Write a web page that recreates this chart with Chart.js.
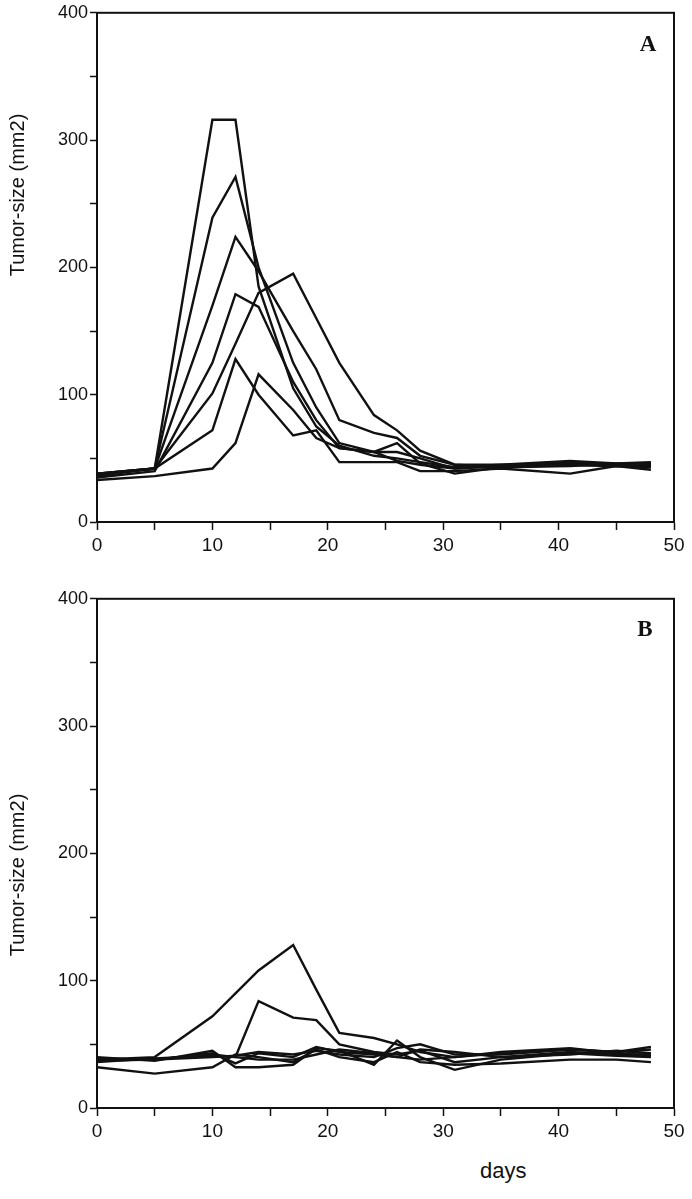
<!DOCTYPE html>
<html>
<head>
<meta charset="utf-8">
<script src="https://cdn.jsdelivr.net/npm/chart.js@4/dist/chart.umd.min.js"></script>
<style>
  body { margin: 0; background: #fff; width: 692px; height: 1199px; position: relative; overflow: hidden; }
  canvas { position: absolute; left: 0; }
  #cA { top: 0; }
  #cB { top: 586px; }
  #days { position: absolute; left: 480px; top: 1158px; font: 22px "Liberation Sans", Arial, sans-serif; color: #111; }
</style>
</head>
<body>
<canvas id="cA" width="692" height="570"></canvas>
<canvas id="cB" width="692" height="570"></canvas>
<div id="days">days</div>
<script>
// measurement days (x axis)
const days = [0, 5, 10, 12, 14, 17, 19, 21, 24, 26, 28, 31, 35, 41, 45, 48];

// panel A: tumour size per animal (mm2)
const a1 = [38, 42, 316, 316, 185, 105, 75, 60, 52, 50, 47, 43, 45, 45, 44, 46];
const a2 = [36, 42, 239, 271, 200, 125, 90, 62, 55, 48, 45, 42, 44, 47, 45, 44];
const a3 = [38, 42, 170, 224, 197, 150, 120, 80, 70, 66, 52, 45, 43, 44, 46, 47];
const a4 = [35, 40, 125, 179, 169, 110, 80, 58, 55, 55, 50, 42, 44, 46, 44, 43];
const a5 = [38, 42, 101, 140, 180, 195, 160, 125, 84, 72, 56, 45, 45, 48, 46, 45];
const a6 = [37, 42, 72, 128, 100, 68, 72, 47, 47, 47, 40, 40, 42, 38, 44, 41];
const a7 = [33, 36, 42, 62, 116, 88, 66, 58, 55, 62, 46, 38, 43, 45, 44, 44];

// panel B
const b1 = [38, 40, 72, 90, 108, 128, 93, 59, 55, 50, 44, 40, 43, 46, 44, 46];
const b2 = [39, 38, 42, 40, 84, 71, 69, 50, 44, 42, 45, 36, 40, 44, 42, 42];
const b3 = [40, 37, 45, 32, 32, 34, 47, 45, 34, 53, 40, 30, 38, 43, 41, 40];
const b4 = [32, 27, 32, 42, 40, 36, 46, 40, 36, 44, 36, 34, 35, 38, 38, 36];
const b5 = [37, 38, 40, 41, 44, 42, 45, 42, 40, 47, 50, 42, 42, 46, 44, 48];
const b6 = [38, 38, 43, 35, 43, 40, 48, 44, 42, 40, 38, 40, 44, 47, 43, 41];
const b7 = [36, 39, 41, 40, 38, 38, 42, 46, 43, 40, 46, 44, 40, 42, 45, 43];

const yTicks = [0, 100, 200, 300, 400];
const xTicks = [0, 10, 20, 30, 40, 50];

const FONT = '"Liberation Sans", Arial, sans-serif';

const panelText = {
  id: "panelText",
  afterDraw(chart, args, opts) {
    const ctx = chart.ctx;
    const a = chart.chartArea;
    ctx.save();
    ctx.strokeStyle = "#111";
    ctx.lineWidth = 2;
    ctx.strokeRect(a.left, a.top, a.right - a.left, a.bottom - a.top);
    ctx.fillStyle = "#111";
    ctx.font = 'bold 23px "Liberation Serif", "Times New Roman", serif';
    ctx.textAlign = "center";
    ctx.textBaseline = "middle";
    ctx.fillText(opts.letter, opts.lx, opts.ly);
    ctx.translate(18, opts.ty);
    ctx.rotate(-Math.PI / 2);
    ctx.font = "20px " + FONT;
    ctx.fillText("Tumor-size (mm2)", 0, 0);
    ctx.restore();
  }
};

function makePanel(id, series, letter, lx, ly, ty) {
  new Chart(document.getElementById(id), {
    type: "line",
    data: {
      labels: days,
      datasets: series.map(s => ({
        data: s.map((v, i) => ({ x: days[i], y: v })),
        borderColor: "#111",
        borderWidth: 2.4,
        pointRadius: 0,
        tension: 0,
        fill: false
      }))
    },
    options: {
      responsive: false,
      animation: false,
      layout: { padding: { top: 12, right: 18, left: 0, bottom: 0 } },
      plugins: {
        legend: { display: false },
        tooltip: { enabled: false },
        panelText: { letter, lx, ly, ty }
      },
      scales: {
        x: {
          type: "linear",
          min: 0, max: 50,
          afterFit: s => { s.height = 48; },
          grid: { drawOnChartArea: false, color: "#111", tickLength: 8, tickWidth: 1.5 },
          border: { color: "#111", width: 2 },
          ticks: {
            stepSize: 5,
            padding: 4,
            color: "#111",
            font: { family: FONT, size: 19 },
            callback: v => (xTicks.includes(v) ? String(v) : "")
          }
        },
        y: {
          min: 0, max: 400,
          afterFit: s => { s.width = 97; },
          grid: { drawOnChartArea: false, color: "#111", tickLength: 7, tickWidth: 1.5 },
          border: { color: "#111", width: 2 },
          ticks: {
            stepSize: 50,
            padding: 2,
            color: "#111",
            font: { family: FONT, size: 18 },
            callback: v => (yTicks.includes(v) ? String(v) : "")
          }
        }
      }
    },
    plugins: [panelText]
  });
}

makePanel("cA", [a1, a2, a3, a4, a5, a6, a7], "A", 648, 45, 195);
makePanel("cB", [b1, b2, b3, b4, b5, b6, b7], "B", 645, 44, 289);
</script>
</body>
</html>
